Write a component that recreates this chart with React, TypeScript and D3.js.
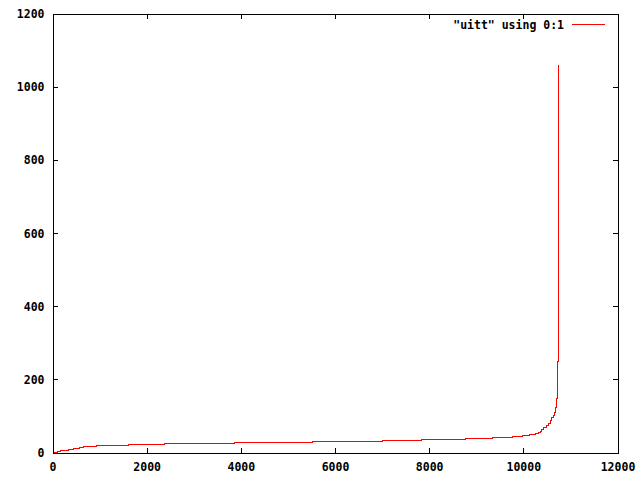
import * as d3 from "d3";

// sorted series: index where each value step starts, and its value
const stepStart = [0, 42, 91, 149, 325, 446, 573, 658, 928, 1600, 2364, 3851, 5516, 6994, 7817, 8766, 9331, 9756, 9968, 10117, 10244, 10308, 10344, 10380, 10414, 10471, 10520, 10556, 10592, 10620, 10648, 10669, 10690, 10712, 10733, 10735];
const stepValue = [1, 2, 5, 8, 10, 12, 14, 17, 21, 24, 26, 29, 32, 35, 37, 40, 43, 46, 49, 51, 54, 57, 60, 64, 69, 75, 80, 88, 96, 102, 110, 125, 150, 250, 1060, 1060];

const xTicks = [0, 2000, 4000, 6000, 8000, 10000, 12000];
const yTicks = [0, 200, 400, 600, 800, 1000, 1200];
const legendLabel = '"uitt" using 0:1';

const W = 640;
const H = 480;
const left = 53;
const right = 618;
const top = 14;
const bottom = 453;
const tick = 5;
const font = "'DejaVu Sans Mono', monospace";

export default function App() {
  const x = d3.scaleLinear().domain([0, 12000]).range([left, right]);
  const y = d3.scaleLinear().domain([0, 1200]).range([bottom, top]);

  const pts = stepStart.map((s, i) => ({ i: s, v: stepValue[i] }));
  const path = d3
    .line<{ i: number; v: number }>()
    .x((d) => x(d.i))
    .y((d) => y(d.v))
    .curve(d3.curveStepAfter)(pts);

  return (
    <svg
      width={W}
      height={H}
      style={{ position: "absolute", left: 0, top: 0, background: "#fff" }}
      fontFamily={font}
      fontSize={11.5}
      fontWeight="bold"
    >
      <rect x={0} y={0} width={W} height={H} fill="#fff" />

      {/* ticks, mirrored on all sides */}
      {xTicks.map((t) => (
        <g key={"x" + t}>
          <line x1={x(t)} x2={x(t)} y1={bottom} y2={bottom - tick} stroke="#000" shapeRendering="crispEdges" />
          <line x1={x(t)} x2={x(t)} y1={top} y2={top + tick} stroke="#000" shapeRendering="crispEdges" />
          <text x={x(t)} y={y(0) + 14} dy="0.35em" textAnchor="middle" fill="#000">
            {t}
          </text>
        </g>
      ))}
      {yTicks.map((t) => (
        <g key={"y" + t}>
          <line x1={left} x2={left + tick} y1={y(t)} y2={y(t)} stroke="#000" shapeRendering="crispEdges" />
          <line x1={right} x2={right - tick} y1={y(t)} y2={y(t)} stroke="#000" shapeRendering="crispEdges" />
          <text x={44.5} y={y(t)} dy="0.35em" textAnchor="end" fill="#000">
            {t}
          </text>
        </g>
      ))}

      <path d={path ?? undefined} fill="none" stroke="#ff0000" strokeWidth={1} shapeRendering="crispEdges" />

      {/* legend */}
      <text x={564} y={25} dy="0.35em" textAnchor="end" fill="#000">
        {legendLabel}
      </text>
      <line x1={572} x2={605} y1={24.5} y2={24.5} stroke="#ff0000" strokeWidth={1} />

      <rect
        x={left}
        y={top}
        width={right - left}
        height={bottom - top}
        fill="none"
        stroke="#000"
        shapeRendering="crispEdges"
      />
    </svg>
  );
}
